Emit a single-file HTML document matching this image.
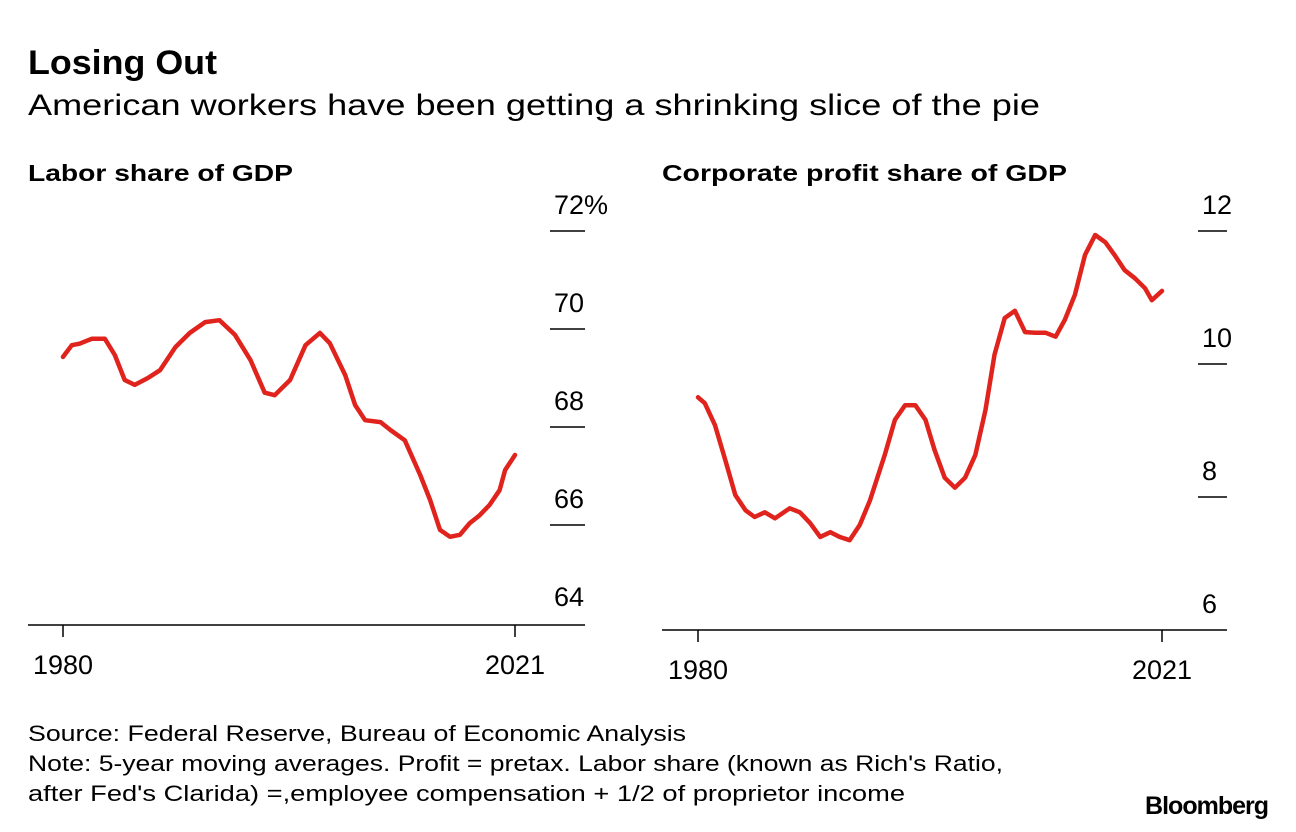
<!DOCTYPE html><html><head><meta charset="utf-8"><style>
body{margin:0;width:1296px;height:832px;background:#fff;font-family:"Liberation Sans",sans-serif;color:#000;overflow:hidden}
</style></head><body>
<svg width="1296" height="832" style="position:absolute;left:0;top:0">
<text x="28" y="74" font-size="34" font-weight="bold" textLength="189" lengthAdjust="spacingAndGlyphs">Losing Out</text>
<text x="28" y="115" font-size="30" textLength="1012" lengthAdjust="spacingAndGlyphs">American workers have been getting a shrinking slice of the pie</text>
<text x="28" y="181" font-size="23" font-weight="bold" textLength="265" lengthAdjust="spacingAndGlyphs">Labor share of GDP</text>
<text x="662" y="181" font-size="23" font-weight="bold" textLength="405" lengthAdjust="spacingAndGlyphs">Corporate profit share of GDP</text>
<g id="left"></g>
<g id="right"></g>
<text x="28" y="741" font-size="22" textLength="658" lengthAdjust="spacingAndGlyphs">Source: Federal Reserve, Bureau of Economic Analysis</text>
<text x="28" y="771" font-size="22" textLength="975" lengthAdjust="spacingAndGlyphs">Note: 5-year moving averages. Profit = pretax. Labor share (known as Rich's Ratio,</text>
<text x="28" y="801" font-size="22" textLength="877" lengthAdjust="spacingAndGlyphs">after Fed's Clarida) =,employee compensation + 1/2 of proprietor income</text>
<text x="1268" y="814" font-size="25" font-weight="bold" text-anchor="end" letter-spacing="-1">Bloomberg</text>
</svg>
<script>
const laborYears=[1980,1980.8,1981.5,1982.6,1983.8,1984.7,1985.6,1986.5,1987.7,1988.8,1990.2,1991.5,1992.9,1994.2,1995.6,1997.0,1998.3,1999.2,2000.6,2002.0,2003.3,2004.2,2005.6,2006.5,2007.4,2008.8,2009.7,2011.0,2012.4,2013.3,2014.2,2015.1,2016.0,2016.9,2017.8,2018.7,2019.6,2020.1,2021];
const laborValues=[69.43,69.67,69.7,69.8,69.8,69.47,68.96,68.86,69.0,69.16,69.63,69.92,70.14,70.18,69.88,69.37,68.7,68.65,68.96,69.67,69.92,69.71,69.06,68.45,68.14,68.1,67.94,67.73,67.02,66.51,65.9,65.76,65.8,66.04,66.2,66.41,66.71,67.12,67.43];
const laborTicks=[64,66,68,70,72];
const laborTickLabels=["64","66","68","70","72%"];
const profitYears=[1980,1980.6,1981.5,1982.4,1983.3,1984.2,1985.0,1985.9,1986.8,1988.1,1989.0,1989.9,1990.8,1991.7,1992.5,1993.4,1994.3,1995.2,1996.5,1997.4,1998.3,1999.2,2000.1,2000.9,2001.8,2002.7,2003.6,2004.5,2005.4,2006.2,2007.1,2008.0,2008.9,2009.8,2010.7,2011.6,2012.4,2013.3,2014.2,2015.1,2016.0,2016.8,2017.7,2018.6,2019.5,2020.1,2021];
const profitValues=[9.5,9.41,9.08,8.56,8.03,7.8,7.7,7.77,7.68,7.83,7.77,7.61,7.4,7.47,7.4,7.35,7.58,7.95,8.63,9.16,9.38,9.38,9.16,8.71,8.29,8.14,8.29,8.63,9.31,10.14,10.69,10.8,10.48,10.47,10.47,10.41,10.66,11.04,11.64,11.94,11.83,11.64,11.41,11.29,11.14,10.96,11.1];
const profitTicks=[6,8,10,12];
const profitTickLabels=["6","8","10","12"];
const xLabels=["1980","2021"];
const NS="http://www.w3.org/2000/svg";
function mk(tag,attrs,parent){const e=document.createElementNS(NS,tag);for(const k in attrs)e.setAttribute(k,attrs[k]);parent.appendChild(e);return e;}
function panel(g,cfg,years,vals,ticks,tlabels){
  const x=y=>cfg.x0+(y-1980)/(2021-1980)*(cfg.x1-cfg.x0);
  const yv=v=>cfg.yTop+(cfg.vTop-v)/(cfg.vTop-cfg.vBot)*(cfg.yBot-cfg.yTop);
  const ax=mk('line',{x1:cfg.axL,x2:cfg.axR,y1:cfg.yBot,y2:cfg.yBot,stroke:'#000','stroke-width':1.5},g);
  
  
  ticks.forEach((t,i)=>{
    const yy=yv(t);
    if(i>0){const l=mk('line',{x1:cfg.tL,x2:cfg.axR,y1:yy,y2:yy,stroke:'#000','stroke-width':1.5},g);
      
      }
    const tx=mk('text',{x:cfg.tL+4,y:yy-17,'font-size':27},g);tx.textContent=tlabels[i];
    
    
  });
  [1980,2021].forEach((yr,i)=>{
    const l=mk('line',{x1:x(yr),x2:x(yr),y1:cfg.yBot,y2:cfg.yBot+12,stroke:'#000','stroke-width':1.5},g);
    
    
    const t=mk('text',{x:x(yr),y:cfg.yBot+49,'font-size':27,'text-anchor':'middle'},g);t.textContent=xLabels[i];
    
    
  });
  const d=years.map((yr,i)=>(i?'L':'M')+x(yr).toFixed(1)+','+yv(vals[i]).toFixed(1)).join('');
  const p=mk('path',{d:d,fill:'none',stroke:'#e0231c','stroke-width':4.5,'stroke-linejoin':'round','stroke-linecap':'round'},g);
  
  
}
panel(document.getElementById('left'),{x0:63,x1:515,axL:28,axR:585,tL:550,yTop:231,yBot:625,vTop:72,vBot:63.96},laborYears,laborValues,laborTicks,laborTickLabels);
panel(document.getElementById('right'),{x0:698,x1:1162,axL:662,axR:1227,tL:1198,yTop:231,yBot:630,vTop:12,vBot:6},profitYears,profitValues,profitTicks,profitTickLabels);
</script>
</body></html>
